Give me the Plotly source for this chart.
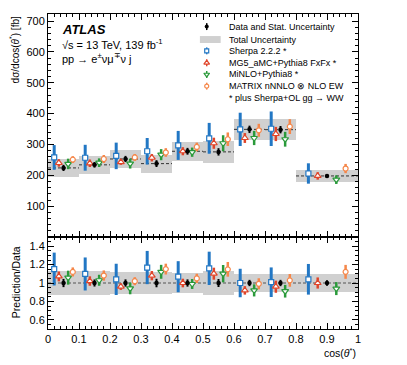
import plotly.graph_objects as go

# bin edges in cos(theta*)
edges = [0.0, 0.1, 0.2, 0.3, 0.4, 0.5, 0.6, 0.7, 0.8, 1.0]

# measured cross section [fb], stat and total uncertainties
data = [224, 234, 253, 238, 278, 276, 349, 348, 198]
data_stat = [10, 9, 10, 11, 11, 12, 12, 12, 6]
data_tot = [30, 30, 30, 29, 31, 35, 35, 35, 20]

# predictions [fb] and their uncertainties
sherpa = [258, 257, 263, 278, 297, 320, 349, 351, 206]
sherpa_err = [40, 42, 43, 43, 47, 50, 54, 56, 33]
mg5 = [240, 239, 243, 257, 278, 304, 321, 334, 198]
mg5_err = [12, 12, 9, 12, 13, 18, 16, 23, 12]
minlo = [237, 241, 238, 267, 275, 304, 321, 317, 186]
minlo_err = [17, 14, 16, 18, 15, 26, 23, 24, 14]
matrix = [251, 253, 258, 274, 292, 317, 346, 358, 222]
matrix_err = [11, 13, 11, 14, 14, 22, 21, 24, 15]

legend_labels = ['Data and Stat. Uncertainty', 'Total Uncertainty', 'Sherpa 2.2.2 *',
                 'MG5_aMC+Pythia8 FxFx *', 'MiNLO+Pythia8 *', 'MATRIX nNNLO \u2297 NLO EW',
                 '* plus Sherpa+OL gg \u2192 WW']

lo = edges[:-1]
hi = edges[1:]
wid = [h - l for l, h in zip(lo, hi)]
ctr = [(l + h) / 2 for l, h in zip(lo, hi)]


def xpos(frac):
    return [l + frac * w for l, w in zip(lo, wid)]


models = [
    (sherpa, sherpa_err, 0.2, '#2277c4', 'square', 5, 3),
    (mg5, mg5_err, 0.35, '#e0452a', 'triangle-up', 6, 2.5),
    (minlo, minlo_err, 0.65, '#2a9a3a', 'triangle-down', 6, 2.5),
    (matrix, matrix_err, 0.8, '#f5874a', 'circle', 5, 2.5),
]

band = '#d0d0d0'
font = 'Liberation Sans, Arial, sans-serif'

fig = go.Figure()

# total uncertainty boxes
fig.add_trace(go.Bar(x=ctr, y=[2 * t for t in data_tot], base=[d - t for d, t in zip(data, data_tot)],
                     width=wid, marker=dict(color=band, line=dict(width=0)),
                     showlegend=False, xaxis='x', yaxis='y'))
fig.add_trace(go.Bar(x=ctr, y=[2 * t / d for t, d in zip(data_tot, data)],
                     base=[1 - t / d for t, d in zip(data_tot, data)],
                     width=wid, marker=dict(color=band, line=dict(width=0)),
                     showlegend=False, xaxis='x2', yaxis='y2'))

# dashed data level per bin
dx, dy = [], []
for l, h, d in zip(lo, hi, data):
    dx += [l, h, None]
    dy += [d, d, None]
fig.add_trace(go.Scatter(x=dx, y=dy, mode='lines', line=dict(color='#333', width=1, dash='3px,2px'),
                         showlegend=False, hoverinfo='skip', xaxis='x', yaxis='y'))
fig.add_trace(go.Scatter(x=[edges[0], edges[-1]], y=[1, 1], mode='lines',
                         line=dict(color='#555', width=1, dash='3px,2px'),
                         showlegend=False, hoverinfo='skip', xaxis='x2', yaxis='y2'))

for vals, errs, frac, col, sym, size, thick in models:
    mk = dict(symbol=sym, size=size, color='white', line=dict(color=col, width=1.2))
    fig.add_trace(go.Scatter(x=xpos(frac), y=vals, mode='markers', marker=mk,
                             error_y=dict(type='data', array=errs, color=col, thickness=thick, width=0),
                             showlegend=False, xaxis='x', yaxis='y'))
    fig.add_trace(go.Scatter(x=xpos(frac), y=[v / d for v, d in zip(vals, data)], mode='markers', marker=mk,
                             error_y=dict(type='data', array=[e / d for e, d in zip(errs, data)],
                                          color=col, thickness=thick, width=0),
                             showlegend=False, xaxis='x2', yaxis='y2'))

# data points
fig.add_trace(go.Scatter(x=xpos(0.5), y=data, mode='markers', marker=dict(size=4.5, color='black'),
                         error_y=dict(type='data', array=data_stat, color='black', thickness=2, width=0),
                         showlegend=False, xaxis='x', yaxis='y'))
fig.add_trace(go.Scatter(x=xpos(0.5), y=[1] * len(data), mode='markers', marker=dict(size=4.5, color='black'),
                         error_y=dict(type='data', array=[s / d for s, d in zip(data_stat, data)],
                                      color='black', thickness=2, width=0),
                         showlegend=False, xaxis='x2', yaxis='y2'))

# hand-made legend (glyphs on an invisible paper-like axis)
leg_y = [0.960, 0.919, 0.883, 0.845, 0.808, 0.771, 0.733]
leg_x = 0.512
fig.add_trace(go.Scatter(x=[leg_x], y=[leg_y[0]], mode='markers', marker=dict(size=4, color='black'),
                         error_y=dict(type='constant', value=0.011, color='black', thickness=1.5, width=0),
                         showlegend=False, xaxis='x3', yaxis='y3'))
for (vals, errs, frac, col, sym, size, thick), yy in zip(models, leg_y[2:6]):
    fig.add_trace(go.Scatter(x=[leg_x], y=[yy], mode='markers',
                             marker=dict(symbol=sym, size=size - 1, color='white', line=dict(color=col, width=1.2)),
                             error_y=dict(type='constant', value=0.011, color=col, thickness=1.5, width=0),
                             showlegend=False, xaxis='x3', yaxis='y3'))
fig.add_shape(type='rect', xref='paper', yref='paper', x0=0.49, x1=0.557,
              y0=leg_y[1] - 0.011, y1=leg_y[1] + 0.011, fillcolor=band, line=dict(width=0))
for i, t in enumerate(legend_labels):
    fig.add_annotation(x=0.577, y=leg_y[i], xref='paper', yref='paper', text=t,
                       showarrow=False, xanchor='left', yanchor='middle', font=dict(size=9, color='black'))

# labels
fig.add_annotation(x=0.040, y=0.952, xref='paper', yref='paper', text='<b><i>ATLAS</i></b>', showarrow=False,
                   xanchor='left', yanchor='middle', font=dict(size=13, color='black'))
fig.add_annotation(x=0.040, y=0.905, xref='paper', yref='paper', text='\u221as = 13 TeV, 139 fb<sup>-1</sup>',
                   showarrow=False, xanchor='left', yanchor='middle', font=dict(size=11, color='black'))
fig.add_annotation(x=0.040, y=0.860, xref='paper', yref='paper',
                   text='pp \u2192 e<sup>\u00b1</sup>\u03bd\u03bc<sup>\u2213</sup>\u03bd j',
                   showarrow=False, xanchor='left', yanchor='middle', font=dict(size=11, color='black'))
fig.add_annotation(x=-0.110, y=1.0, xref='paper', yref='paper',
                   text='d\u03c3/dcos(<i>\u03b8</i><sup>*</sup>) [fb]', textangle=-90,
                   showarrow=False, xanchor='center', yanchor='top', font=dict(size=10, color='black'))
fig.add_annotation(x=-0.103, y=0.149, xref='paper', yref='paper', text='Prediction/Data', textangle=-90,
                   showarrow=False, xanchor='center', yanchor='middle', font=dict(size=10.5, color='black'))
fig.add_annotation(x=1.0, y=-0.075, xref='paper', yref='paper', text='cos(<i>\u03b8</i><sup>*</sup>)',
                   showarrow=False, xanchor='right', yanchor='middle', font=dict(size=10.5, color='black'))

axis_common = dict(showline=True, linecolor='black', linewidth=1, mirror='allticks', ticks='inside',
                   tickcolor='black', showgrid=False, zeroline=False, tickfont=dict(size=11, color='black'))

# page body has an 8px margin, so the figure is a bit smaller than the window
fig.update_layout(
    width=399, height=357,
    margin=dict(l=40, r=49, t=6, b=36),
    paper_bgcolor='white', plot_bgcolor='rgba(0,0,0,0)',
    font=dict(family=font, color='black'),
    barmode='overlay', bargap=0, showlegend=False,
    xaxis=dict(axis_common, domain=[0, 1], anchor='y', range=[0, 1], dtick=0.1, ticklen=6,
               showticklabels=False, minor=dict(dtick=0.02, ticklen=3, ticks='inside', tickcolor='black')),
    yaxis=dict(axis_common, domain=[0.292, 1], anchor='x', range=[0, 723], tickvals=[100, 200, 300, 400, 500, 600, 700],
               ticklen=6, minor=dict(dtick=20, ticklen=3, ticks='inside', tickcolor='black')),
    xaxis2=dict(axis_common, domain=[0, 1], anchor='y2', range=[0, 1], ticklen=6,
                tickvals=[0, 0.1, 0.2, 0.3, 0.4, 0.5, 0.6, 0.7, 0.8, 0.9, 1],
                ticktext=['0', '0.1', '0.2', '0.3', '0.4', '0.5', '0.6', '0.7', '0.8', '0.9', '1'],
                minor=dict(dtick=0.02, ticklen=3, ticks='inside', tickcolor='black')),
    yaxis2=dict(axis_common, domain=[0, 0.292], anchor='x2', range=[0.5, 1.5],
                tickvals=[0.6, 0.8, 1.0, 1.2, 1.4], ticktext=['0.6', '0.8', '1', '1.2', '1.4'], ticklen=6,
                minor=dict(dtick=0.05, ticklen=3, ticks='inside', tickcolor='black')),
    xaxis3=dict(domain=[0, 1], anchor='y3', range=[0, 1], visible=False, fixedrange=True),
    yaxis3=dict(domain=[0, 1], anchor='x3', range=[0, 1], visible=False, fixedrange=True),
)

fig.write_html("out.html")
